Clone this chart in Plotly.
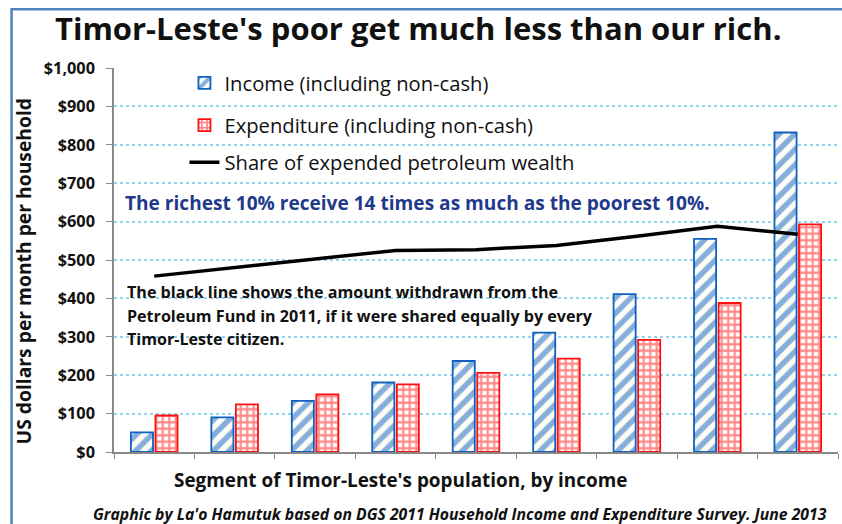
import plotly.graph_objects as go

segments = ["Segment 1", "Segment 2", "Segment 3", "Segment 4", "Segment 5",
            "Segment 6", "Segment 7", "Segment 8", "Segment 9"]
income = [51, 90, 133, 181, 237, 311, 411, 555, 832]
expenditure = [95, 124, 150, 176, 206, 243, 292, 388, 593]
petroleum_share = [458, 481, 504, 525, 527, 538, 562, 588, 567]
y_ticks = [0, 100, 200, 300, 400, 500, 600, 700, 800, 900, 1000]
y_tick_labels = ["$0", "$100", "$200", "$300", "$400", "$500", "$600",
                 "$700", "$800", "$900", "$1,000"]

FONT = "Open Sans"
BLUE = "#1060C0"
RED = "#FF1010"

fig = go.Figure()
fig.add_trace(go.Bar(
    x=segments, y=income, name="Income (including non-cash)",
    marker=dict(color="white", line=dict(color=BLUE, width=1.8),
                pattern=dict(shape="/", fgcolor=BLUE, bgcolor="#FDFDF6",
                             size=11, solidity=0.5)),
    legend="legend",
))
fig.add_trace(go.Bar(
    x=segments, y=expenditure, name="Expenditure (including non-cash)",
    marker=dict(color="white", line=dict(color=RED, width=1.8),
                pattern=dict(shape="+", fgcolor=RED, bgcolor="white",
                             size=6.5, solidity=0.55)),
    legend="legend2",
))
fig.add_trace(go.Scatter(
    x=segments, y=petroleum_share, name="Share of expended petroleum wealth",
    mode="lines", line=dict(color="black", width=3.5),
    legend="legend3",
))

def py(p):
    return (451.7 - p) / 383.0

def px(p):
    return (p - 113.5) / 724.5

leg_common = dict(xanchor="left", yanchor="middle", bgcolor="rgba(0,0,0,0)",
                  font=dict(family=FONT, size=20.2, color="#111111"),
                  itemwidth=30)

def note(text, x, y, size, xanchor="left", color="#111111", **kw):
    font = dict(family=FONT, size=size, color=color, weight="bold")
    font.update(kw.pop("font_extra", {}))
    return dict(text=text, x=px(x), y=py(y), xref="paper", yref="paper",
                showarrow=False, xanchor=xanchor, yanchor="middle", font=font, **kw)

annotations = [
    note("Timor-Leste's poor get much less than our rich.", 418, 29, 31, xanchor="center"),
    note("The richest 10% receive 14 times as much as the poorest 10%.", 123, 203, 19.1,
         color="#1F3A8A"),
    note("The black line shows the amount withdrawn from the", 125, 292, 16.1),
    note("Petroleum Fund in 2011, if it were shared equally by every", 125, 316, 16.1),
    note("Timor-Leste citizen.", 125, 339, 16.1),
    note("US dollars per month per household", 23, 272, 19.3, xanchor="center", textangle=-90),
    note("Segment of Timor-Leste's population, by income", 400, 480, 18.9, xanchor="center"),
    note("Graphic by La'o Hamutuk based on DGS 2011 Household Income and Expenditure Survey. June 2013",
         829, 514, 15.75, xanchor="right", font_extra=dict(style="italic")),
]

fig.update_layout(
    width=842, height=524,
    margin=dict(l=113.5, r=4, t=68, b=72.3, pad=0),
    paper_bgcolor="white", plot_bgcolor="white",
    barmode="group", bargap=0.39, bargroupgap=0.1,
    font=dict(family=FONT, color="#111111"),
    showlegend=True,
    legend=dict(x=px(184), y=py(84), **leg_common),
    legend2=dict(x=px(184), y=py(126), **leg_common),
    legend3=dict(x=px(184), y=py(163), **leg_common),
    annotations=annotations,
    shapes=[dict(type="rect", xref="paper", yref="paper",
                 x0=px(11), x1=px(860), y0=py(540), y1=py(10),
                 line=dict(color="#4F81BD", width=2.5), fillcolor="rgba(0,0,0,0)", layer="below")],
)
fig.update_xaxes(
    showticklabels=False, ticks="outside", tickson="boundaries", ticklen=5,
    tickcolor="#888888", showline=True, linecolor="#888888", linewidth=1.5,
    showgrid=False, range=[-0.5, 8.5],
)
fig.update_yaxes(
    range=[0, 1000], tickvals=y_ticks, ticktext=y_tick_labels,
    ticks="outside", ticklen=6, tickcolor="#888888", ticklabelstandoff=8,
    tickfont=dict(family=FONT, size=16.3, color="#111111", weight="bold"),
    showline=True, linecolor="#888888", linewidth=1.5,
    showgrid=True, gridcolor="#8FD3F0", griddash="dot", gridwidth=1.5,
    zeroline=False,
)

fig.write_html("out.html", config={"displayModeBar": False},
               post_script="document.body.style.margin='0';document.body.style.overflow='hidden';")
